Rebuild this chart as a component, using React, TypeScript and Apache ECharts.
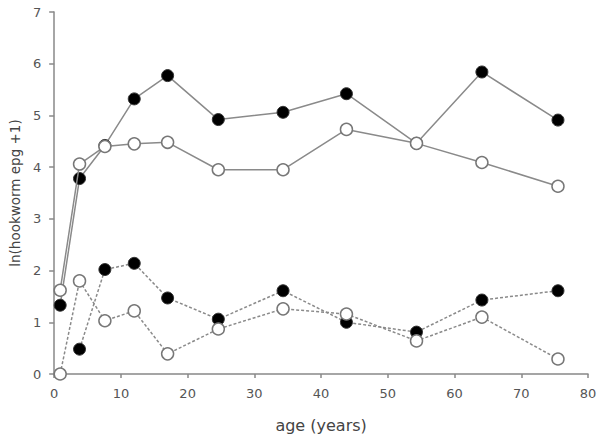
import React, { useEffect, useRef } from "react";
import * as echarts from "echarts";

const ages = [0.9, 3.8, 7.6, 12, 17, 24.6, 34.3, 43.8, 54.3, 64.1, 75.5];
const solidFilled = [1.33, 3.78, 4.42, 5.32, 5.77, 4.92, 5.06, 5.42, 4.46, 5.84, 4.91];
const solidOpen = [1.62, 4.06, 4.4, 4.45, 4.48, 3.95, 3.95, 4.73, 4.46, 4.09, 3.63];
const dashedFilledAges = [3.8, 7.6, 12, 17, 24.6, 34.3, 43.8, 54.3, 64.1, 75.5];
const dashedFilled = [0.48, 2.02, 2.14, 1.47, 1.06, 1.61, 1.0, 0.81, 1.43, 1.61];
const dashedOpen = [0.0, 1.8, 1.03, 1.22, 0.39, 0.87, 1.26, 1.16, 0.64, 1.1, 0.29];

const pairs = (xs: number[], ys: number[]) => xs.map((x, i) => [x, ys[i]]);

export default function App() {
  const ref = useRef<HTMLDivElement>(null);
  useEffect(() => {
    if (!ref.current) return;
    const chart = echarts.init(ref.current, undefined, { renderer: "svg" });
    const lineGray = "#8a8a8a";
    const font = "DejaVu Sans, sans-serif";
    const filledStyle = { color: "#000", borderColor: "#333", borderWidth: 1 };
    const openStyle = { color: "#fff", borderColor: "#777", borderWidth: 1.5 };
    chart.setOption({
      animation: false,
      backgroundColor: "#fff",
      grid: { left: 52, right: 13, top: 12, bottom: 64 },
      xAxis: {
        type: "value",
        min: 0,
        max: 80,
        interval: 10,
        name: "age (years)",
        nameLocation: "middle",
        nameGap: 43,
        nameTextStyle: { fontFamily: font, fontSize: 16, color: "#444" },
        splitLine: { show: false },
        axisLine: { lineStyle: { color: "#888", width: 1.5 } },
        axisTick: { show: true, length: 4, inside: false, lineStyle: { color: "#888", width: 1.5 } },
        axisLabel: { fontFamily: font, fontSize: 13, color: "#555", margin: 13 },
      },
      yAxis: {
        type: "value",
        min: 0,
        max: 7,
        interval: 1,
        name: "ln(hookworm epg +1)",
        nameLocation: "middle",
        nameGap: 31,
        nameTextStyle: { fontFamily: font, fontSize: 13.5, color: "#444" },
        splitLine: { show: false },
        axisLine: { show: true, lineStyle: { color: "#888", width: 1.5 } },
        axisTick: { show: true, length: 5, lineStyle: { color: "#888", width: 1.5 } },
        axisLabel: { fontFamily: font, fontSize: 13, color: "#555", margin: 13 },
      },
      series: [
        {
          type: "line",
          data: pairs(ages, solidFilled),
          symbol: "circle",
          symbolSize: 12,
          lineStyle: { color: lineGray, width: 1.5 },
          itemStyle: filledStyle,
          z: 2,
        },
        {
          type: "line",
          data: pairs(dashedFilledAges, dashedFilled),
          symbol: "circle",
          symbolSize: 12,
          lineStyle: { color: lineGray, width: 1.5, type: [3, 2] },
          itemStyle: filledStyle,
          z: 2,
        },
        {
          type: "line",
          data: pairs(ages, solidOpen),
          symbol: "circle",
          symbolSize: 12,
          lineStyle: { color: lineGray, width: 1.5 },
          itemStyle: openStyle,
          z: 3,
        },
        {
          type: "line",
          data: pairs(ages, dashedOpen),
          symbol: "circle",
          symbolSize: 12,
          lineStyle: { color: lineGray, width: 1.5, type: [3, 2] },
          itemStyle: openStyle,
          z: 3,
        },
      ],
    });
    return () => chart.dispose();
  }, []);
  return (
    <div
      ref={ref}
      style={{ position: "fixed", left: 0, top: 0, width: 601, height: 438, background: "#fff" }}
    />
  );
}
